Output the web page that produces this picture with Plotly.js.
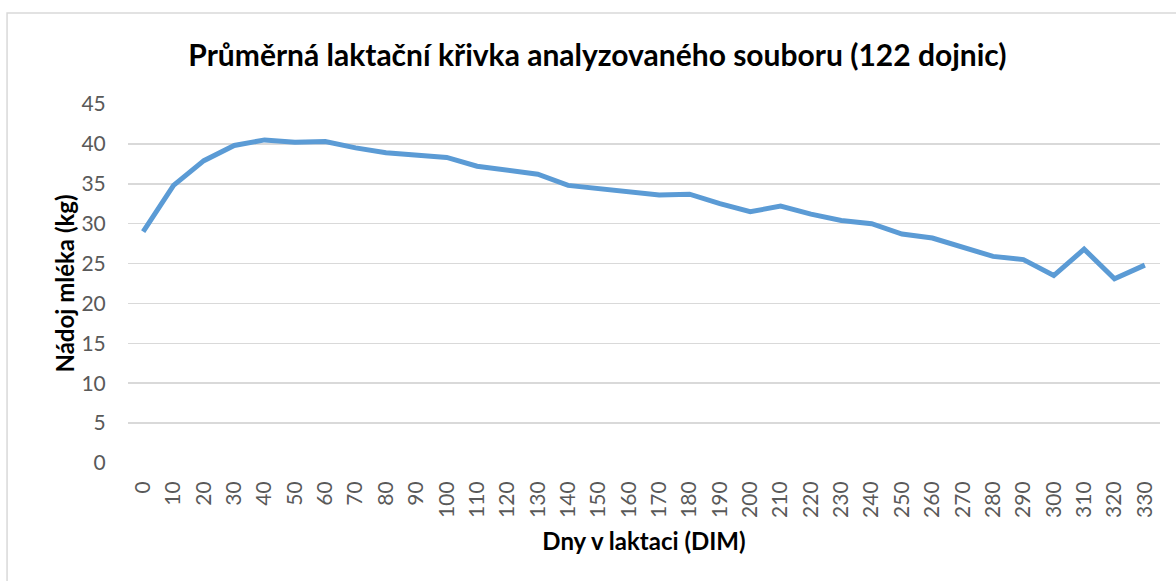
<!DOCTYPE html>
<html>
<head>
<meta charset="utf-8">
<script src="https://cdn.plot.ly/plotly-3.0.1.min.js"></script>
<style>html,body{margin:0;padding:0;background:#fff;}#chart{width:1176px;height:581px;}</style>
</head>
<body>
<div id="chart"></div>
<script>
const days = [0,10,20,30,40,50,60,70,80,90,100,110,120,130,140,150,160,170,180,190,200,210,220,230,240,250,260,270,280,290,300,310,320,330];
const milkYield = [29.0,34.8,37.9,39.8,40.5,40.2,40.3,39.5,38.9,38.6,38.3,37.2,36.7,36.2,34.8,34.4,34.0,33.6,33.7,32.5,31.5,32.2,31.2,30.4,30.0,28.7,28.2,27.0,25.9,25.5,23.5,26.8,23.1,24.8];
const dayLabels = days.map(String);

const fontFam = 'Lato, "Open Sans", sans-serif';

Plotly.newPlot('chart', [{
  type: 'scatter',
  mode: 'lines',
  x: dayLabels,
  y: milkYield,
  line: {color: '#5B9BD5', width: 5},
  hoverinfo: 'x+y'
}], {
  width: 1176, height: 581,
  margin: {l: 128, r: 16, t: 104, b: 118},
  paper_bgcolor: '#ffffff',
  plot_bgcolor: '#ffffff',
  showlegend: false,
  font: {family: fontFam, color: '#595959', size: 21},
  title: {
    text: 'Průměrná laktační křivka analyzovaného souboru (122 dojnic)',
    font: {family: fontFam, size: 30, color: '#000000', weight: 'bold'},
    x: 0.508, xanchor: 'center', y: 0.905, yanchor: 'middle'
  },
  xaxis: {
    type: 'category',
    range: [-0.5, 33.5],
    tickangle: -90,
    tickfont: {family: fontFam, size: 21, color: '#595959'},
    showgrid: false,
    zeroline: false,
    showline: false,
    ticks: 'outside',
    ticklen: 9,
    tickcolor: 'rgba(0,0,0,0)',
    title: {text: 'Dny v laktaci (DIM)', font: {family: fontFam, size: 24, color: '#000000', weight: 'bold'}, standoff: 16}
  },
  yaxis: {
    range: [0, 45],
    dtick: 5,
    tick0: 0,
    tickfont: {family: fontFam, size: 21, color: '#595959'},
    gridcolor: '#d9d9d9',
    gridwidth: 1.5,
    zeroline: false,
    showline: false,
    ticks: 'outside',
    ticklen: 17,
    tickcolor: 'rgba(0,0,0,0)',
    title: {text: 'Nádoj mléka (kg)', font: {family: fontFam, size: 24, color: '#000000', weight: 'bold'}, standoff: 0}
  },
  shapes: [{
    type: 'rect', xref: 'paper', yref: 'paper',
    x0: -0.1172, x1: 1.2, y0: -0.5, y1: 1.2535,
    line: {color: '#d9d9d9', width: 1.5},
    fillcolor: 'rgba(0,0,0,0)',
    layer: 'below'
  }]
}, {displayModeBar: false, staticPlot: true});
</script>
</body>
</html>
